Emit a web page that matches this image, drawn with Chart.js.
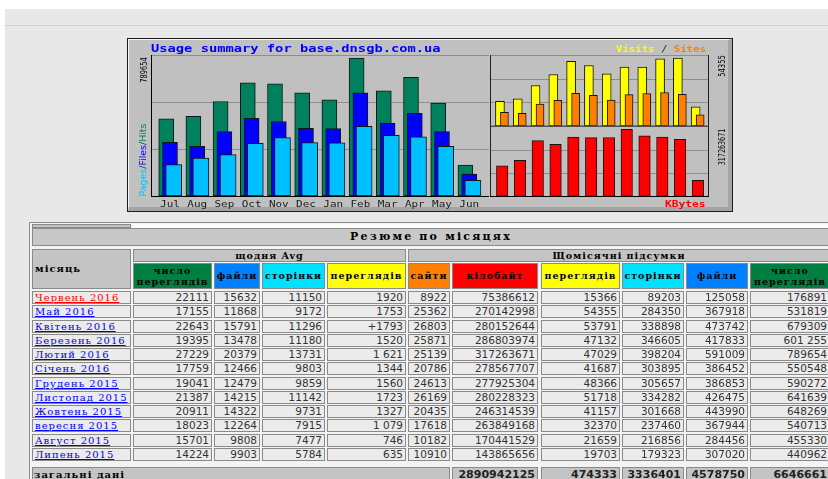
<!DOCTYPE html>
<html lang="uk"><head><meta charset="utf-8"><title>Usage summary for base.dnsgb.com.ua</title>
<script src="https://cdn.jsdelivr.net/npm/chart.js@4/dist/chart.umd.min.js"></script>
<style>
html,body{margin:0;padding:0}
body{position:relative;width:828px;height:479px;overflow:hidden;background:#fff}
.a{position:absolute}
#page{left:5px;top:9px;width:823px;height:470px;background:#e8e8e8}
#rule{left:5px;top:25px;width:823px;height:1px;background:#cfcfcf}
#box{left:127px;top:38px;width:606px;height:174px;box-sizing:border-box;border:1px solid #1c1c1c;background:#c0c0c0}
#boxhl{left:128px;top:39px;width:604px;height:172px;box-sizing:border-box;border-top:1px solid #f4f4f4;border-left:1px solid #f4f4f4;border-right:4px solid #a4a4a4;border-bottom:4px solid #a4a4a4}
canvas{position:absolute}
.t{position:absolute;white-space:nowrap;line-height:1}
.mono{font-family:"DejaVu Sans Mono",monospace;font-weight:bold}
.rot{position:absolute;font-family:"DejaVu Sans",sans-serif;font-size:9px;white-space:nowrap;line-height:1}
#tbl{left:29px;top:222px;width:803px;height:262px;box-sizing:border-box;border:1px solid #8e8e8e;background:#f3f3f3}
.c{position:absolute;box-sizing:border-box;border:1px solid #8a8a8a;overflow:hidden;white-space:nowrap}
.g{background:#c4c4c4}
.d{background:#ebebeb}
.num{font:10.5px "DejaVu Sans",sans-serif;color:#333;text-align:right;padding-right:2px}
.hd{font-family:"DejaVu Serif",serif;font-weight:bold;color:#000;font-size:9.5px;letter-spacing:1px;text-align:center}
.mo{font:10px "DejaVu Serif",serif;letter-spacing:1px;padding-left:2px}
.mo span{text-decoration:underline}
.tot{font:bold 11px "DejaVu Sans",sans-serif;color:#222;text-align:right;padding-right:2px}
</style></head><body>
<div class="a" id="page"></div>
<div class="a" id="rule"></div>
<div class="a" id="box"></div>
<div class="a" id="boxhl"></div>
<canvas id="cMain" width="361" height="172" style="left:128px;top:39px;width:361px;height:172px"></canvas>
<canvas id="cVis" width="224" height="82" style="left:489px;top:45px;width:224px;height:82px"></canvas>
<canvas id="cKb" width="224" height="80" style="left:489px;top:126px;width:224px;height:80px"></canvas>
<div class="t mono" id="title" style="font-size:10px;color:#0000ff">Usage summary for base.dnsgb.com.ua</div>
<div class="t mono" id="vsLegend" style="font-size:9px"><span style="color:#ffff00">Visits</span><span style="color:#404040"> / </span><span style="color:#ff8000">Sites</span></div>
<div class="t mono" id="kbLegend" style="font-size:9px;color:#ff0000">KBytes</div>
<div class="rot" id="rMaxHits" style="color:#000"></div>
<div class="rot" id="rPFH"><span style="color:#00c0ff">Pages</span><span style="color:#303030">/</span><span style="color:#0000ff">Files</span><span style="color:#303030">/</span><span style="color:#00805c">Hits</span></div>
<div class="rot" id="rMaxVis" style="color:#000"></div>
<div class="rot" id="rMaxKb" style="color:#000"></div>
<div class="a" id="tbl"></div>
<script>
// ---------- chart data (Jul 2015 .. Jun 2016) ----------
const months = ['Jul','Aug','Sep','Oct','Nov','Dec','Jan','Feb','Mar','Apr','May','Jun'];
const hits   = [440962,455330,540713,648269,641639,590272,550548,789654,601255,679309,531819,176891];
const files  = [307020,284456,367944,443990,426475,386853,386452,591009,417833,473742,367918,125058];
const pages  = [179323,216856,237460,301668,334282,305657,303895,398204,346605,338898,284350,89203];
const visits = [19703,21659,32370,41157,51718,48366,41687,47029,47132,53791,54355,15366];
const sites  = [10910,10182,17618,20435,26169,24613,20786,25139,25871,26803,25362,8922];
const kbytes = [143865656,170441529,263849168,246314539,280228323,277925304,278567707,317263671,286803974,280152644,270142998,75386612];
// axis tops (value at the top of each plot frame)
const hitsAxisMax = 806820;
const visitsAxisMax = 56780;
const kbytesAxisMax = 331470000;

// ---------- table data (newest first) ----------
const tableMonths = ['Червень 2016','Май 2016','Квітень 2016','Березень 2016','Лютий 2016','Січень 2016','Грудень 2015','Листопад 2015','Жовтень 2015','вересня 2015','Август 2015','Липень 2015'];
const avgHits   = ['22111','17155','22643','19395','27229','17759','19041','21387','20911','18023','15701','14224'];
const avgFiles  = ['15632','11868','15791','13478','20379','12466','12479','14215','14322','12264','9808','9903'];
const avgPages  = ['11150','9172','11296','11180','13731','9803','9859','11142','9731','7915','7477','5784'];
const avgVisits = ['1920','1753','+1793','1520','1 621','1344','1560','1723','1327','1 079','746','635'];
const hitsShown = {3:'601 255'};
const totalsRow = ['2890942125','474333','3336401','4578750','6646661'];

// ---------- plugins ----------
const shiftPlugin = {
  id:'shift',
  beforeDatasetDraw(chart,args){const s=chart.data.datasets[args.index].xShift||0;chart.ctx.save();chart.ctx.translate(s,0);},
  afterDatasetDraw(chart){chart.ctx.restore();}
};
const framePlugin = {
  id:'frame',
  beforeDatasetsDraw(chart,args,o){
    const {ctx,chartArea:a,scales:{y}}=chart;
    const L=a.left-o.extL, R=a.right+o.extR;
    ctx.save();ctx.lineWidth=1;ctx.strokeStyle=o.grid;
    for(let k=1;k<=o.steps;k++){
      if(k===o.steps && !o.top) continue;
      const yy=Math.round(y.getPixelForValue(y.max*k/o.steps))+0.5;
      ctx.beginPath();ctx.moveTo(L,yy);ctx.lineTo(R,yy);ctx.stroke();
    }
    ctx.restore();
  },
  afterDatasetsDraw(chart,args,o){
    const {ctx,chartArea:a}=chart;
    const L=a.left-o.extL, R=a.right+o.extR;
    ctx.save();
    const T=a.top-(o.top?0:1), B=Math.round(a.bottom)+0.5;
    ctx.lineWidth=1;
    if(o.left){ctx.strokeStyle=o.left;const x=Math.round(L)+0.5;ctx.beginPath();ctx.moveTo(x,T);ctx.lineTo(x,B);ctx.stroke();}
    if(o.right){ctx.strokeStyle=o.right;const x=Math.round(R)-0.5;ctx.beginPath();ctx.moveTo(x,T);ctx.lineTo(x,B);ctx.stroke();}
    if(o.bottom){ctx.strokeStyle=o.bottom;ctx.lineWidth=o.bottomW||1;ctx.beginPath();ctx.moveTo(L,B);ctx.lineTo(R,B);ctx.stroke();}
    ctx.restore();
  }
};
const monthPlugin = {
  id:'months',
  afterDraw(chart,args,o){
    const {ctx,chartArea:a,scales:{x}}=chart;
    ctx.save();ctx.font='9px "DejaVu Sans Mono"';ctx.fillStyle='#1a1a1a';ctx.textAlign='center';ctx.textBaseline='middle';
    chart.data.labels.forEach((lab,i)=>{const px=x.getPixelForValue(i);ctx.save();ctx.translate(px,a.bottom+o.dy);ctx.scale(o.sx,1);ctx.fillText(lab,0,0);ctx.restore();});
    ctx.restore();
  }
};
function opts(pad,yMax,frame,extra){
  return {responsive:false,animation:false,devicePixelRatio:1,events:[],
    layout:{padding:pad},
    plugins:Object.assign({legend:{display:false},tooltip:{enabled:false},frame:frame},extra||{}),
    scales:{x:{display:false,offset:true},y:{display:false,min:0,max:yMax}},
    datasets:{bar:{grouped:false,borderWidth:1,borderColor:'#141414',borderSkipped:false,clip:false}}};
}
new Chart(document.getElementById('cMain'),{
  type:'bar',
  data:{labels:months,datasets:[
    {label:'Pages',data:pages,backgroundColor:'#00c0ff',barThickness:16,xShift:3.7},
    {label:'Files',data:files,backgroundColor:'#0000ff',barThickness:15,xShift:0},
    {label:'Hits',data:hits,backgroundColor:'#00805c',barThickness:15,xShift:-3.8}
  ]},
  options:opts({left:28.4,right:6.2,top:16,bottom:15},hitsAxisMax,
    {extL:5.4,extR:6.2,steps:3,top:true,grid:'#8e8e8e',left:'#000',right:null,bottom:'#000'},
    {months:{dy:8.7,sx:1.22}}),
  plugins:[shiftPlugin,framePlugin,monthPlugin]
});
new Chart(document.getElementById('cVis'),{
  type:'bar',
  data:{labels:months,datasets:[
    {label:'Sites',data:sites,backgroundColor:'#ff8000',barThickness:8,xShift:2.25},
    {label:'Visits',data:visits,backgroundColor:'#ffff00',barThickness:9,xShift:-2.25}
  ]},
  options:opts({left:4.3,right:6.2,top:10,bottom:1},visitsAxisMax,
    {extL:3.3,extR:2.2,steps:3,top:true,grid:'#8e8e8e',left:'#202020',right:'#202020',bottom:'#505050',bottomW:2}),
  plugins:[shiftPlugin,framePlugin]
});
new Chart(document.getElementById('cKb'),{
  type:'bar',
  data:{labels:months,datasets:[
    {label:'KBytes',data:kbytes,backgroundColor:'#ff0000',barThickness:11.5,xShift:0}
  ]},
  options:opts({left:4.3,right:6.2,top:0.3,bottom:9.7},kbytesAxisMax,
    {extL:3.3,extR:2.2,steps:3,top:false,grid:'#8e8e8e',left:'#202020',right:'#202020',bottom:'#000'}),
  plugins:[shiftPlugin,framePlugin]
});

// ---------- chart texts ----------
function fitH(el,x,yc,w,anchor){
  const nw=el.offsetWidth, nh=el.offsetHeight;
  el.style.top=(yc-nh/2)+'px';
  if(anchor==='right'){el.style.left=(x-nw)+'px';el.style.transformOrigin='right center';}
  else{el.style.left=x+'px';el.style.transformOrigin='left center';}
  el.style.transform='scaleX('+(w/nw)+')';
}
function fitRot(el,cx,cy,len){
  const nw=el.offsetWidth;
  el.style.left=cx+'px';el.style.top=cy+'px';
  el.style.transform='translate(-50%,-50%) rotate(-90deg) scaleX('+(len/nw)+')';
}
fitH(document.getElementById('title'),150.7,48.5,290,'left');
fitH(document.getElementById('vsLegend'),706,49.7,90,'right');
fitH(document.getElementById('kbLegend'),706,204.7,41,'right');
const rMH=document.getElementById('rMaxHits');rMH.textContent=String(Math.max(...hits));fitRot(rMH,144,69.5,25);
fitRot(document.getElementById('rPFH'),143.3,160,73);
const rMV=document.getElementById('rMaxVis');rMV.textContent=String(Math.max(...visits));fitRot(rMV,721.7,66,21.7);
const rMK=document.getElementById('rMaxKb');rMK.textContent=String(Math.max(...kbytes));fitRot(rMK,721.7,146.5,37);

// ---------- table ----------
const body=document.body;
function cell(x0,x1,y0,y1,cls,txt,lh){
  const d=document.createElement('div');d.className='c '+cls;
  d.style.left=x0+'px';d.style.top=y0+'px';d.style.width=(x1-x0)+'px';d.style.height=(y1-y0)+'px';
  d.style.lineHeight=(lh||(y1-y0-2))+'px';
  if(txt!==undefined) d.innerHTML=txt;
  body.appendChild(d);return d;
}
const colX=[[32,131],[133,212],[214,260],[262,325],[327,406],[408,450],[452,538],[541,620],[622,684],[686,748],[750,830]];
// top thin row + title
cell(32,131,224,228,'g','');
const thin=cell(133,830,224,228,'','');thin.style.border='none';thin.style.background='#fbfbfb';
const tt=cell(32,830,228,246,'g hd','Резюме по місяцях');tt.style.fontSize='11px';tt.style.letterSpacing='2.2px';tt.style.background='#c8c8c8';
// header
const mh=cell(32,131,249,289,'g hd','місяць');mh.style.textAlign='left';mh.style.paddingLeft='2px';mh.style.fontSize='10px';
cell(133,406,249,262,'g hd','щодня Avg');
cell(408,830,249,262,'g hd','Щомісячні підсумки');
const hdrNames=['число<br>переглядів','файли','сторінки','переглядів','сайти','кілобайт','переглядів','сторінки','файли','число<br>переглядів'];
const hdrColors=['#008040','#0080ff','#00e0ff','#ffff00','#ff8000','#ff0000','#ffff00','#00e0ff','#0080ff','#008040'];
hdrNames.forEach((n,i)=>{
  const two=n.indexOf('<br>')>=0;
  const c=cell(colX[i+1][0],colX[i+1][1],263,289,'hd',n,two?11:24);
  c.style.background=hdrColors[i];
  if(two){c.style.paddingTop='1px';}
});
// rows
const tSites=sites.slice().reverse(), tKb=kbytes.slice().reverse(), tVis=visits.slice().reverse(),
      tPages=pages.slice().reverse(), tFiles=files.slice().reverse(), tHits=hits.slice().reverse();
for(let k=0;k<12;k++){
  const y0=Math.round(291+14.25*k), y1=y0+13;
  const m=cell(colX[0][0],colX[0][1],y0,y1,'d mo','<span>'+tableMonths[k]+'</span>');
  m.style.color=k===0?'#ff0000':'#0000ff';
  const vals=[avgHits[k],avgFiles[k],avgPages[k],avgVisits[k],tSites[k],tKb[k],tVis[k],tPages[k],tFiles[k],hitsShown[k]||tHits[k]];
  vals.forEach((v,i)=>cell(colX[i+1][0],colX[i+1][1],y0,y1,'d num',String(v)));
}
// totals
const tl=cell(32,450,467,483,'g hd','загальні дані',13);tl.style.textAlign='left';tl.style.paddingLeft='1px';tl.style.fontSize='10px';
totalsRow.forEach((v,i)=>cell(colX[i+6][0],colX[i+6][1],467,483,'g tot',v,13));
</script>
</body></html>
